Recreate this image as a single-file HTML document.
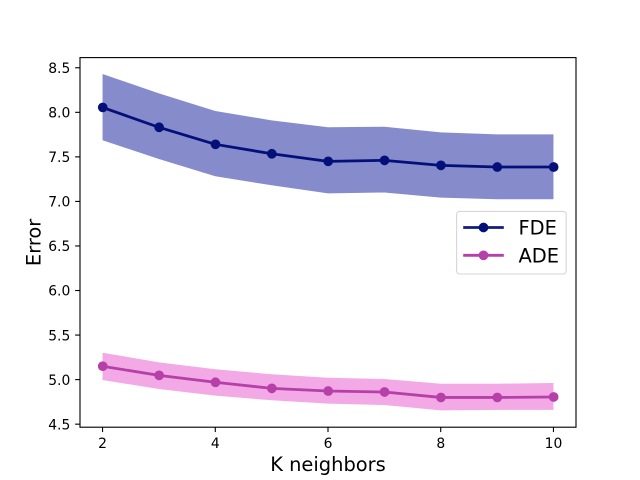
<!DOCTYPE html>
<html>
<head>
<meta charset="utf-8">
<style>
html,body{margin:0;padding:0;background:#fff;}
svg{display:block;font-family:"DejaVu Sans","Liberation Sans",sans-serif;}
</style>
</head>
<body>
<svg id="chart" width="640" height="480" viewBox="0 0 640 480"></svg>
<script>
const kValues = [2, 3, 4, 5, 6, 7, 8, 9, 10];
const fdeMean = [8.055, 7.832, 7.641, 7.535, 7.45, 7.461, 7.405, 7.386, 7.386];
const fdeUpper = [8.43, 8.213, 8.015, 7.91, 7.832, 7.838, 7.775, 7.753, 7.753];
const fdeLower = [7.686, 7.476, 7.282, 7.181, 7.09, 7.10, 7.042, 7.024, 7.024];
const adeMean = [5.15, 5.048, 4.97, 4.902, 4.872, 4.861, 4.80, 4.80, 4.805];
const adeUpper = [5.302, 5.194, 5.116, 5.06, 5.021, 5.007, 4.954, 4.954, 4.962];
const adeLower = [4.995, 4.895, 4.82, 4.768, 4.73, 4.715, 4.655, 4.66, 4.66];
const xTicks = [2, 4, 6, 8, 10];
const yTicks = [4.5, 5.0, 5.5, 6.0, 6.5, 7.0, 7.5, 8.0, 8.5];
const seriesNames = ["FDE", "ADE"];

const NS = "http://www.w3.org/2000/svg";
const svg = document.getElementById("chart");
const plot = {left: 80, right: 576, top: 57.6, bottom: 427.2};
const xDomain = {min: 1.6, max: 10.4};
const yDomain = {min: 4.4659, max: 8.6142};

function xScale(v) {
  return plot.left + (v - xDomain.min) / (xDomain.max - xDomain.min) * (plot.right - plot.left);
}
function yScale(v) {
  return plot.bottom - (v - yDomain.min) / (yDomain.max - yDomain.min) * (plot.bottom - plot.top);
}
function make(tag, attrs, text) {
  const el = document.createElementNS(NS, tag);
  for (const key in attrs) el.setAttribute(key, attrs[key]);
  if (text !== undefined) el.textContent = text;
  svg.appendChild(el);
  return el;
}
function pointsOf(xs, ys) {
  return xs.map((x, i) => xScale(x).toFixed(2) + "," + yScale(ys[i]).toFixed(2));
}

const background = make("rect", {x: 0, y: 0, width: 640, height: 480, fill: "#fff"});



const fdeBand = make("polygon", {
  points: pointsOf(kValues, fdeUpper).concat(pointsOf(kValues, fdeLower).reverse()).join(" "),
  fill: "#868bcb"
});



const adeBand = make("polygon", {
  points: pointsOf(kValues, adeUpper).concat(pointsOf(kValues, adeLower).reverse()).join(" "),
  fill: "#f2a9e6"
});



const fdeLine = make("polyline", {
  points: pointsOf(kValues, fdeMean).join(" "),
  fill: "none", stroke: "#03107a", "stroke-width": 2.78, "stroke-linejoin": "round"
});



kValues.forEach((k, i) => {
  const dot = make("circle", {cx: xScale(k) + 0.2, cy: yScale(fdeMean[i]), r: 4.86, fill: "#03107a"});
  
  
});

const adeLine = make("polyline", {
  points: pointsOf(kValues, adeMean).join(" "),
  fill: "none", stroke: "#b63fa8", "stroke-width": 2.78, "stroke-linejoin": "round"
});



kValues.forEach((k, i) => {
  const dot = make("circle", {cx: xScale(k) + 0.2, cy: yScale(adeMean[i]), r: 4.86, fill: "#b63fa8"});
  
  
});

const frame = make("rect", {
  x: plot.left, y: plot.top, width: plot.right - plot.left, height: plot.bottom - plot.top,
  fill: "none", stroke: "#000", "stroke-width": 1.11
});



xTicks.forEach(t => {
  const x = xScale(t);
  const mark = make("line", {x1: x, x2: x, y1: plot.bottom, y2: plot.bottom + 4.86, stroke: "#000", "stroke-width": 1.11});
  
  
  const label = make("text", {x: x, y: 447.8, "text-anchor": "middle", "font-size": 13.89, fill: "#000"}, String(t));
  
  
});

yTicks.forEach(t => {
  const y = yScale(t);
  const mark = make("line", {x1: plot.left - 4.86, x2: plot.left, y1: y, y2: y, stroke: "#000", "stroke-width": 1.11});
  
  
  const label = make("text", {x: 70.3, y: y + 5.2, "text-anchor": "end", "font-size": 13.89, fill: "#000"}, t.toFixed(1));
  
  
});

const xTitle = make("text", {x: 328, y: 471, "text-anchor": "middle", "font-size": 19.44, fill: "#000"}, "K neighbors");



const yTitle = make("text", {x: 0, y: 0, "text-anchor": "middle", "font-size": 19.44, fill: "#000", transform: "translate(40.5 242.4) rotate(-90)"}, "Error");



const legendBox = make("rect", {x: 456.6, y: 211.4, width: 109.6, height: 62.6, rx: 3, ry: 3, fill: "#fff", "fill-opacity": 0.85, stroke: "#d6d6d6", "stroke-width": 1.11});



const legendColors = ["#0f1b7f", "#b63fa8"];
const legendDots = ["#03107a", "#b63fa8"];
const legendRows = [227.5, 255.3];
seriesNames.forEach((name, i) => {
  const row = legendRows[i];
  const key = make("line", {x1: 463.2, x2: 503.8, y1: row, y2: row, stroke: legendColors[i], "stroke-width": 2.78});
  
  
  const dot = make("circle", {cx: 483.5, cy: row, r: 4.86, fill: legendDots[i]});
  
  
  const label = make("text", {x: 518.5, y: row + 7, "font-size": 19.44, fill: "#000"}, name);
  
  
});
</script>
</body>
</html>
